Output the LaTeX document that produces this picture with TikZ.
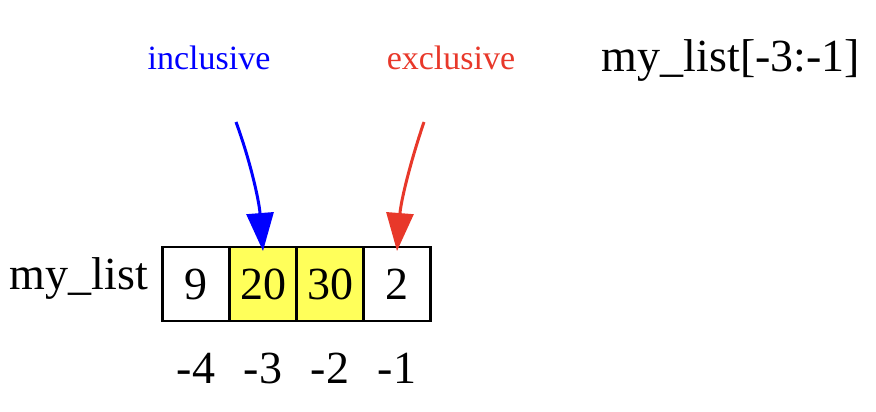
\documentclass[tikz,border=0pt]{standalone}
\usepackage{fontspec}
\setmainfont{Liberation Serif}
\usepackage{tikz}
\usetikzlibrary{arrows.meta, positioning}
\definecolor{SliceBlue}{HTML}{0000FF}
\definecolor{SliceRed}{HTML}{E8382A}
\definecolor{SliceYellow}{HTML}{FFFF5A}

\begin{document}
\begin{tikzpicture}[x=1pt, y=-1pt,
          cell/.style={rectangle, draw=black, line width=2.6pt, fill=white,
                        minimum width=67pt, minimum height=74pt, inner sep=0pt,
                        outer sep=0pt, font=\fontsize{46}{50}\selectfont},
          picked/.style={cell, fill=SliceYellow},
          bigtxt/.style={anchor=base, inner sep=0pt, font=\fontsize{46}{50}\selectfont},
          smalltxt/.style={anchor=base, inner sep=0pt, font=\fontsize{34}{38}\selectfont},
          inarr/.style={-{Triangle[length=38pt, width=27pt]}, line width=3pt, color=SliceBlue},
          exarr/.style={-{Triangle[length=38pt, width=27pt]}, line width=3pt, color=SliceRed},
          node distance=0pt
        ]
          \useasboundingbox (0,0) rectangle (876,412);
          \node[cell] (c9) at (196,284) {9};
          \node[picked, right=of c9] (c20) {20};
          \node[picked, right=of c20] (c30) {30};
          \node[cell, right=of c30] (c2) {2};
          \node[bigtxt] (lname) at (79,289) {my\_list};
          \node[bigtxt] (i4) at (196,383) {-4};
          \node[bigtxt] (i3) at (263,383) {-3};
          \node[bigtxt] (i2) at (330,383) {-2};
          \node[bigtxt] (i1) at (397,383) {-1};
          \node[bigtxt] (slice) at (731,72) {my\_list[-3:-1]};
          \node[smalltxt, text=SliceBlue] (incl) at (209,70) {inclusive};
          \node[smalltxt, text=SliceRed] (excl) at (451,70) {exclusive};
          \coordinate (inclfrom) at (236,122);
          \coordinate (exclfrom) at (424,122);
          \draw[inarr] (inclfrom) .. controls (250,160) and (259,200) .. ([yshift=-4pt]c20.north);
          \draw[exarr] (exclfrom) .. controls (411,160) and (401,200) .. ([yshift=-4pt]c2.north);
        \end{tikzpicture}
\end{document}
